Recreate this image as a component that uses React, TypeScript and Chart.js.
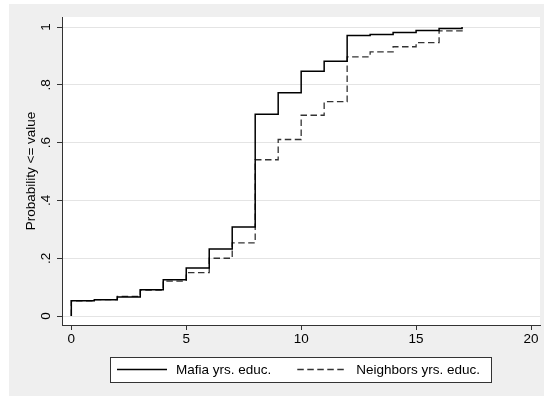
import React, { useEffect, useRef } from "react";
import { Chart, registerables } from "chart.js";

Chart.register(...registerables);

// ---- data ----
const years = [0, 1, 2, 3, 4, 5, 6, 7, 8, 9, 10, 11, 12, 13, 14, 15, 16, 17];
const mafiaCdf = [0.053, 0.056, 0.066, 0.091, 0.126, 0.166, 0.232, 0.308, 0.698, 0.773, 0.847, 0.882, 0.971, 0.974, 0.981, 0.988, 0.995, 1.0];
const neighborsCdf = [0.053, 0.057, 0.068, 0.09, 0.121, 0.15, 0.2, 0.253, 0.541, 0.611, 0.695, 0.742, 0.897, 0.914, 0.932, 0.946, 0.987, 0.99];
const seriesLabels = ["Mafia yrs. educ.", "Neighbors yrs. educ."];
const xTicks = [0, 5, 10, 15, 20];
const xTickLabels = ["0", "5", "10", "15", "20"];
const yTicks = [0, 0.2, 0.4, 0.6, 0.8, 1];
const yTickLabels = ["0", ".2", ".4", ".6", ".8", "1"];
const yTitle = "Probability <= value";

const FONT = '"Liberation Sans", Arial, Helvetica, sans-serif';
const AXIS = "#333333";
const DASH = [6.5, 3.5];

const bgPlugin = {
  id: "stataBg",
  beforeDraw(chart: any) {
    const { ctx, chartArea: a, width, height } = chart;
    ctx.save();
    ctx.fillStyle = "#ffffff";
    ctx.fillRect(0, 0, width, height);
    ctx.fillStyle = "#efefef";
    ctx.fillRect(9, 4, width - 9, height - 6);
    ctx.fillStyle = "#ffffff";
    ctx.fillRect(a.left, a.top, a.right - a.left, a.bottom - a.top);
    ctx.restore();
  },
};

const legendPlugin = {
  id: "stataLegend",
  afterDraw(chart: any) {
    const { ctx, chartArea: a } = chart;
    ctx.save();
    ctx.font = `13.5px ${FONT}`;
    const w1 = ctx.measureText(seriesLabels[0]).width;
    const w2 = ctx.measureText(seriesLabels[1]).width;
    const padL = 7, lineW = 50, gap = 9, between = 26, padR = 11;
    const total = padL + lineW + gap + w1 + between + lineW + gap + w2 + padR;
    const cx = (a.left + a.right) / 2;
    const left = Math.round(cx - total / 2);
    const top = 357;
    const h = 25;
    ctx.fillStyle = "#ffffff";
    ctx.fillRect(left, top, total, h);
    ctx.strokeStyle = AXIS;
    ctx.lineWidth = 1;
    ctx.strokeRect(left + 0.5, top + 0.5, Math.round(total), h);
    const my = top + h / 2;
    let x = left + padL;
    // solid sample
    ctx.beginPath();
    ctx.strokeStyle = "#000";
    ctx.lineWidth = 1.5;
    ctx.setLineDash([]);
    ctx.moveTo(x, my);
    ctx.lineTo(x + lineW, my);
    ctx.stroke();
    x += lineW + gap;
    ctx.fillStyle = "#000";
    ctx.textBaseline = "middle";
    ctx.textAlign = "left";
    ctx.fillText(seriesLabels[0], x, my + 0.5);
    x += w1 + between;
    // dashed sample
    ctx.beginPath();
    ctx.strokeStyle = "#333";
    ctx.lineWidth = 1.3;
    ctx.setLineDash(DASH);
    ctx.moveTo(x, my);
    ctx.lineTo(x + lineW, my);
    ctx.stroke();
    ctx.setLineDash([]);
    x += lineW + gap;
    ctx.fillText(seriesLabels[1], x, my + 0.5);
    ctx.restore();
  },
};

export default function App() {
  const ref = useRef<HTMLCanvasElement | null>(null);

  useEffect(() => {
    if (!ref.current) return;
    const mafiaData = [{ x: years[0], y: 0 }, ...years.map((yr, i) => ({ x: yr, y: mafiaCdf[i] }))];
    const neighData = [{ x: years[0], y: 0 }, ...years.map((yr, i) => ({ x: yr, y: neighborsCdf[i] }))];

    const chart = new Chart(ref.current, {
      type: "line",
      data: {
        datasets: [
          {
            label: seriesLabels[0],
            data: mafiaData,
            borderColor: "#000000",
            borderWidth: 1.5,
            stepped: "before",
            pointRadius: 0,
            fill: false,
          },
          {
            label: seriesLabels[1],
            data: neighData,
            borderColor: "#333333",
            borderWidth: 1.3,
            borderDash: DASH,
            stepped: "before",
            pointRadius: 0,
            fill: false,
          },
        ],
      },
      options: {
        responsive: false,
        animation: false,
        devicePixelRatio: 1,
        layout: { padding: { left: 0, top: 17, right: 4, bottom: 48 } },
        plugins: { legend: { display: false }, tooltip: { enabled: false } },
        font: { family: FONT, size: 13.5 },
        scales: {
          x: {
            type: "linear",
            min: -0.405,
            max: 20.39,
            afterBuildTicks: (s: any) => {
              s.ticks = xTicks.map((v) => ({ value: v }));
            },
            afterFit: (s: any) => {
              s.height = 25;
            },
            grid: { drawOnChartArea: false, drawTicks: true, tickLength: 5, tickColor: AXIS },
            border: { color: AXIS, width: 1 },
            ticks: {
              autoSkip: false,
              minRotation: 0,
              maxRotation: 0,
              padding: 1,
              color: "#000",
              font: { family: FONT, size: 13.5 },
              callback: (v: any) => xTickLabels[xTicks.indexOf(Number(v))] ?? String(v),
            },
          },
          y: {
            type: "linear",
            min: -0.031,
            max: 1.035,
            afterBuildTicks: (s: any) => {
              s.ticks = yTicks.map((v) => ({ value: v }));
            },
            afterFit: (s: any) => {
              s.width = 62;
            },
            grid: { color: "#e4e4e4", lineWidth: 1, drawTicks: true, tickLength: 5, tickColor: AXIS },
            border: { color: AXIS, width: 1 },
            ticks: {
              autoSkip: false,
              minRotation: 90,
              maxRotation: 90,
              crossAlign: "center",
              padding: 5,
              color: "#000",
              font: { family: FONT, size: 13.5 },
              callback: (v: any) => yTickLabels[yTicks.indexOf(Number(v))] ?? String(v),
            },
            title: {
              display: true,
              text: yTitle,
              color: "#000",
              font: { family: FONT, size: 13.5 },
              padding: { top: 23, bottom: 0 },
            },
          },
        },
      },
      plugins: [bgPlugin, legendPlugin],
    } as any);
    return () => chart.destroy();
  }, []);

  return (
    <div style={{ position: "absolute", left: 0, top: 0, width: 544, height: 398 }}>
      <canvas ref={ref} width={544} height={398} style={{ display: "block", width: 544, height: 398 }} />
    </div>
  );
}
